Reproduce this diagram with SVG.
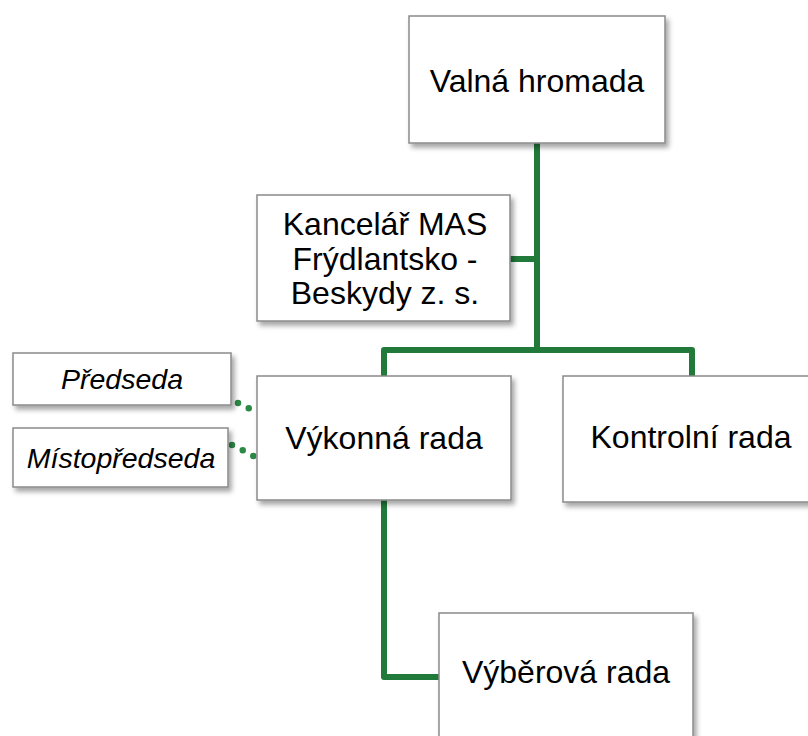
<svg xmlns="http://www.w3.org/2000/svg" width="808" height="736" viewBox="0 0 808 736">
<defs>
<filter id="sh" x="-10%" y="-10%" width="130%" height="140%">
<feDropShadow dx="3" dy="4" stdDeviation="2.5" flood-color="#000" flood-opacity="0.35"/>
</filter>
<style>
.box{fill:#fff;stroke:#8a8a8a;stroke-width:1.5;filter:url(#sh)}
.t{font-family:"Liberation Sans",Arial,sans-serif;font-size:32px;fill:#000;text-anchor:middle}
.s{font-family:"Liberation Sans",Arial,sans-serif;font-size:28.5px;font-style:italic;fill:#000;text-anchor:middle}
.c{fill:none;stroke:#217a3a;stroke-width:6;stroke-linejoin:round}
.d{fill:none;stroke:#2a8a45;stroke-width:6.5;stroke-linecap:round;stroke-dasharray:0 12}
</style>
</defs>
<rect width="808" height="736" fill="#fff"/>
<g id="connectors">
<path class="c" d="M537 143 V350"/>
<path class="c" d="M510 259 H537"/>
<path class="c" d="M384 376 V350 H692 V376"/>
<path class="c" d="M384 500 V677 H439"/>
<path class="d" d="M238 403 L250 409 L256 412"/>
<path class="d" d="M232 445 L244 451 L255 457"/>
</g>
<g id="valna-hromada">
<rect class="box" x="409" y="16" width="256" height="127"/>
<text class="t" x="537" y="92">Valná hromada</text>
</g>
<g id="kancelar">
<rect class="box" x="257" y="195" width="253" height="126"/>
<text class="t" x="385" y="235">Kancelář MAS</text>
<text class="t" x="385" y="270">Frýdlantsko -</text>
<text class="t" x="385" y="304">Beskydy z. s.</text>
</g>
<g id="vykonna-rada">
<rect class="box" x="257" y="376" width="254" height="124"/>
<text class="t" x="384" y="449">Výkonná rada</text>
</g>
<g id="kontrolni-rada">
<rect class="box" x="563" y="376" width="254" height="126"/>
<text class="t" x="691" y="448">Kontrolní rada</text>
</g>
<g id="vyberova-rada">
<rect class="box" x="439" y="613" width="254" height="130"/>
<text class="t" x="566" y="683">Výběrová rada</text>
</g>
<g id="predseda">
<rect class="box" x="13" y="353" width="218" height="52"/>
<text class="s" x="122" y="389">Předseda</text>
</g>
<g id="mistopredseda">
<rect class="box" x="13" y="428" width="215" height="59"/>
<text class="s" x="121" y="468">Místopředseda</text>
</g>
</svg>
